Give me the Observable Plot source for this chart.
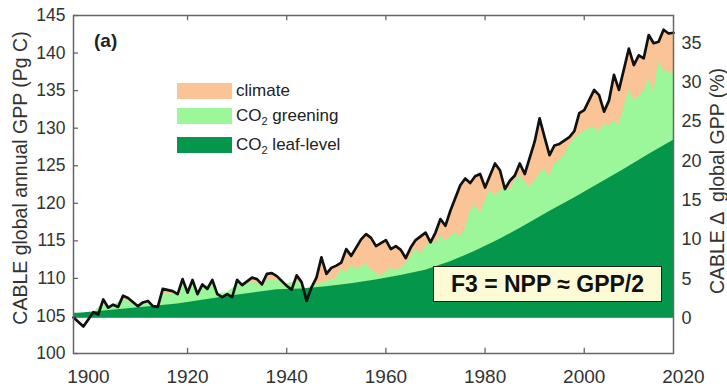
<!DOCTYPE html>
<html><head><meta charset="utf-8">
<script src="https://cdn.jsdelivr.net/npm/d3@7"></script>
<script src="https://cdn.jsdelivr.net/npm/@observablehq/plot@0.6"></script>
<style>
body{margin:0;background:#fff;}
#wrap{position:relative;width:727px;height:388px;font-family:"Liberation Sans",Arial,sans-serif;color:#333;overflow:hidden;}
#wrap svg{position:absolute;left:0;top:0;}
.ttl{position:absolute;white-space:pre;font-size:19.5px;color:#333;transform:translate(-50%,-50%) rotate(-90deg);}
.sw{position:absolute;left:177px;width:55px;height:16px;}
.lb{position:absolute;left:236px;font-size:17px;color:#222;line-height:17px;white-space:nowrap;}
.lb sub{font-size:11px;vertical-align:-4px;line-height:0;}
#tag{position:absolute;left:94px;top:30px;font-size:19px;font-weight:bold;color:#222;}
#note{position:absolute;left:433px;top:266px;width:227px;height:34px;border:1.5px solid #222;background:#fdfbd6;font-size:23px;font-weight:bold;color:#111;line-height:34px;text-align:center;white-space:nowrap;}
</style></head><body><div id="wrap"></div>
<script>
// Total CABLE global annual GPP (Pg C), black line
const lineYears = [1897,1899,1901,1902,1903,1904,1905,1906,1907,1908,1910,1911,1912,1913,1914,1915,1917,1918,1919,1920,1921,1922,1923,1924,1925,1926,1927,1928,1929,1930,1931,1933,1934,1935,1936,1937,1938,1940,1941,1942,1943,1944,1945,1946,1947,1948,1949,1950,1951,1952,1953,1955,1956,1957,1958,1960,1961,1962,1963,1964,1965,1966,1968,1969,1970,1971,1972,1973,1975,1976,1977,1978,1979,1980,1982,1983,1984,1985,1986,1987,1988,1990,1991,1992,1993,1994,1995,1997,1998,1999,2000,2002,2003,2004,2005,2006,2007,2009,2010,2011,2012,2013,2014,2015,2016,2017,2018];
const lineGPP = [104.8,103.6,105.5,105.2,107.2,106.1,106.5,106.2,107.7,107.4,106.3,106.8,107.0,106.3,106.2,108.6,108.3,107.9,109.9,108.1,109.8,107.9,109.2,108.6,109.8,107.9,107.5,107.9,107.5,109.8,109.1,110.1,109.9,109.2,110.6,110.7,110.3,109.0,108.5,110.4,109.5,107.0,108.8,110.1,112.8,110.6,111.4,111.7,112.1,113.9,113.0,115.2,115.9,115.4,114.3,115.1,113.9,114.3,113.8,112.7,114.1,115.1,116.1,114.8,116.1,117.9,117.0,119.0,122.4,123.3,122.7,123.6,123.9,122.1,125.3,124.4,121.9,123.0,123.7,125.3,123.9,128.2,131.3,128.8,126.4,127.7,127.9,128.8,129.6,132.0,132.4,135.1,134.4,132.2,133.7,137.1,135.1,140.6,138.4,139.7,139.3,142.4,141.3,141.5,143.1,142.6,142.7];

// Top of the CO2 greening band (Pg C)
const greenYears = [1897,1899,1901,1903,1904,1905,1907,1908,1910,1912,1914,1915,1917,1918,1919,1920,1921,1922,1923,1925,1926,1928,1930,1932,1934,1935,1936,1938,1940,1942,1943,1944,1946,1948,1950,1951,1952,1953,1954,1956,1957,1959,1961,1962,1964,1965,1966,1967,1969,1970,1971,1972,1974,1975,1976,1977,1978,1979,1980,1981,1982,1984,1985,1986,1987,1988,1989,1991,1992,1993,1994,1995,1996,1997,1998,2000,2002,2003,2004,2005,2006,2007,2008,2009,2010,2011,2012,2013,2014,2015,2016,2017,2018];
const greenTop = [105.5,105.3,105.4,106.7,106.0,106.3,107.3,107.0,106.3,106.7,106.2,108.0,108.0,107.7,109.3,108.2,109.3,108.0,108.9,109.2,108.0,108.1,109.2,109.4,109.4,108.9,109.7,109.8,109.3,109.6,109.3,108.6,109.2,109.6,110.0,111.2,110.8,111.7,111.2,111.9,111.2,110.3,111.4,111.0,111.9,112.8,113.9,113.3,115.0,114.6,115.7,115.0,116.1,115.5,116.6,119.0,119.8,118.6,120.4,121.7,121.0,122.1,121.7,123.0,123.7,122.8,122.1,123.9,124.6,123.5,125.3,125.7,126.4,127.7,128.6,129.7,130.2,129.5,130.6,130.2,131.1,130.4,132.8,135.1,133.7,134.2,134.8,136.6,134.8,138.8,137.7,137.3,137.5];

// Top of the CO2 leaf-level band (Pg C)
const leafYears = [1897,1907,1918,1928,1938,1943,1948,1953,1958,1963,1968,1973,1978,1983,1988,1993,1998,2003,2008,2013,2018];
const leafTop = [105.3,105.9,106.6,107.6,108.5,108.6,108.9,109.3,109.8,110.4,111.1,112.2,113.6,115.2,117.0,118.9,120.7,122.6,124.5,126.5,128.4];

const baseGPP = 104.7;             // baseline GPP = 0 % on the right axis
const yTicks = [100,105,110,115,120,125,130,135,140,145];
const pctTicks = [0,5,10,15,20,25,30,35];
const xTicks = [1900,1920,1940,1960,1980,2000,2020];
const xInnerTicks = [1920,1940,1960,1980,2000];
const xDomain = [1897, 2018];
const yDomain = [100, 145];
const seriesNames = ["climate", "CO<sub>2</sub> greening", "CO<sub>2</sub> leaf-level"];
const seriesColors = ["#fbc497", "#9cf79a", "#04964b"];

const total = lineYears.map((year, i) => ({year, v: lineGPP[i]}));
const green = greenYears.map((year, i) => ({year, v: greenTop[i]}));
const leaf = leafYears.map((year, i) => ({year, v: leafTop[i]}));

const chart = Plot.plot({
  width: 727, height: 388,
  marginLeft: 73, marginRight: 54, marginTop: 15, marginBottom: 35,
  x: {domain: xDomain},
  y: {domain: yDomain},
  style: {fontFamily: "'Liberation Sans', Arial, sans-serif", background: "transparent", overflow: "visible"},
  marks: [
    Plot.areaY(total, {x: "year", y1: baseGPP, y2: d => Math.max(d.v, baseGPP), fill: seriesColors[0]}),
    Plot.areaY(green, {x: "year", y1: baseGPP, y2: "v", fill: seriesColors[1]}),
    Plot.areaY(leaf, {x: "year", y1: baseGPP, y2: "v", fill: seriesColors[2]}),
    Plot.line(total, {x: "year", y: "v", stroke: "#111", strokeWidth: 2.7, strokeLinejoin: "round"}),
    Plot.frame({stroke: "#666", strokeWidth: 1.5}),
    Plot.ruleY(yTicks, {y: d => d, x1: xDomain[0], x2: xDomain[0] + 1, stroke: "#666", strokeWidth: 1.3}),
    Plot.ruleX(xInnerTicks, {x: d => d, y1: yDomain[0], y2: yDomain[0] + 0.7, stroke: "#666", strokeWidth: 1.3}),
    Plot.ruleX(xInnerTicks, {x: d => d, y1: yDomain[1], y2: yDomain[1] - 0.7, stroke: "#666", strokeWidth: 1.3}),
    Plot.axisY(yTicks, {anchor: "left", tickSize: 0, tickPadding: 8, fontSize: 17.5, color: "#333", label: null}),
    Plot.axisY(pctTicks.map(p => baseGPP * (1 + p / 100)), {anchor: "right", tickSize: 0, tickPadding: 8, fontSize: 18, color: "#333", label: null,
      tickFormat: d => String(Math.round((d / baseGPP - 1) * 100))}),
    Plot.axisX(xTicks, {anchor: "bottom", tickSize: 0, tickPadding: 16, fontSize: 19, color: "#333", label: null, tickFormat: d => String(d)})
  ]
});

const wrap = document.getElementById("wrap");
wrap.appendChild(chart);

function add(html, cls, style) {
  const el = document.createElement("div");
  if (cls) el.className = cls;
  el.innerHTML = html;
  Object.assign(el.style, style || {});
  wrap.appendChild(el);
  return el;
}
add("CABLE global annual GPP (Pg C)", "ttl", {left: "20px", top: "178px"});
add("CABLE \u0394  global GPP (%)", "ttl", {left: "717px", top: "181px"});
const swTops = [83, 108, 137];
seriesNames.forEach((name, i) => {
  add("", "sw", {top: swTops[i] + "px", background: seriesColors[i]});
  add(name, "lb", {top: (swTops[i] - 1) + "px"});
});
add("(a)", null, {}).id = "tag";
add("F3 = NPP \u2248 GPP/2", null, {}).id = "note";
</script>
</body></html>
